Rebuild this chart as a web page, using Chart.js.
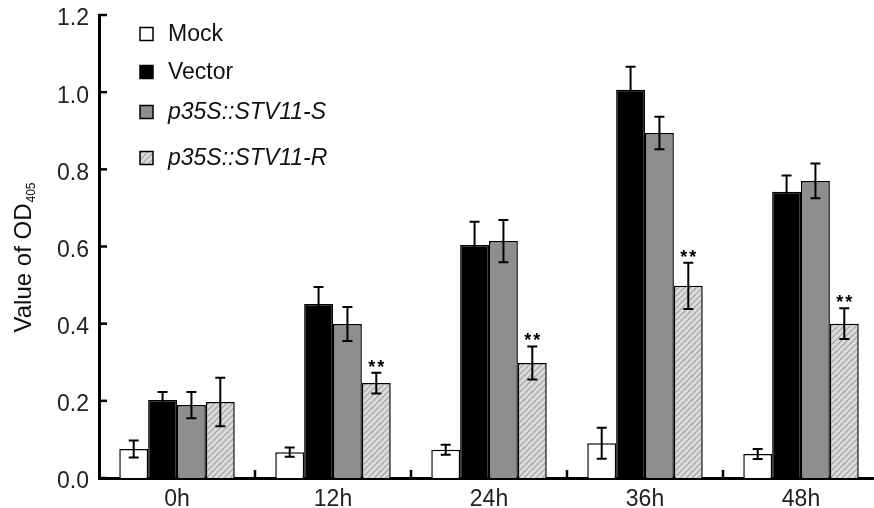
<!DOCTYPE html>
<html>
<head>
<meta charset="utf-8">
<script src="https://cdn.jsdelivr.net/npm/chart.js@4/dist/chart.umd.min.js"></script>
<style>
  html, body { margin: 0; padding: 0; background: #fff; overflow: hidden; }
  #wrap { width: 880px; height: 508px; }
</style>
</head>
<body>
<div id="wrap"><canvas id="myChart" width="880" height="508"></canvas></div>
<script>
// values
const categories = ['0h', '12h', '24h', '36h', '48h'];
const seriesNames = ['Mock', 'Vector', 'p35S::STV11-S', 'p35S::STV11-R'];

const mockValues   = [0.075, 0.067, 0.073, 0.090, 0.062];
const mockErr      = [0.022, 0.012, 0.013, 0.040, 0.013];
const vectorValues = [0.202, 0.451, 0.604, 1.006, 0.742];
const vectorErr    = [0.021, 0.044, 0.060, 0.060, 0.042];
const sValues      = [0.189, 0.399, 0.614, 0.894, 0.770];
const sErr         = [0.034, 0.044, 0.055, 0.042, 0.045];
const rValues      = [0.197, 0.246, 0.298, 0.498, 0.400];
const rErr         = [0.063, 0.027, 0.043, 0.060, 0.040];
const rSignif      = ['', '**', '**', '**', '**'];

function hatchPattern() {
    const c = document.createElement('canvas');
    c.width = 6; c.height = 6;
    const g = c.getContext('2d');
    g.fillStyle = '#dcdcdc';
    g.fillRect(0, 0, 6, 6);
    g.strokeStyle = '#a9a9a9';
    g.lineWidth = 1.3;
    g.beginPath();
    g.moveTo(0, 6); g.lineTo(6, 0);
    g.moveTo(-1, 1); g.lineTo(1, -1);
    g.moveTo(5, 7); g.lineTo(7, 5);
    g.stroke();
    return g.createPattern(c, 'repeat');
}

const textFont = '"Liberation Sans", Arial, sans-serif';

// error bars + significance marks
const errorBars = {
    id: 'errorBars',
    afterDatasetsDraw(chart) {
        const ctx = chart.ctx;
        const y = chart.scales.y;
        ctx.save();
        ctx.strokeStyle = '#000';
        ctx.lineWidth = 2;
        chart.data.datasets.forEach((ds, i) => {
            chart.getDatasetMeta(i).data.forEach((bar, j) => {
                const v = ds.data[j], e = ds.errors[j];
                const yt = y.getPixelForValue(v + e);
                const yb = y.getPixelForValue(v - e);
                ctx.beginPath();
                ctx.moveTo(bar.x, yt); ctx.lineTo(bar.x, yb);
                ctx.moveTo(bar.x - 5, yt); ctx.lineTo(bar.x + 5, yt);
                ctx.moveTo(bar.x - 5, yb); ctx.lineTo(bar.x + 5, yb);
                ctx.stroke();
                if (ds.signif && ds.signif[j]) {
                    ctx.fillStyle = '#000';
                    ctx.font = 'bold 18px ' + textFont;
                    ctx.letterSpacing = '2px';
                    ctx.textAlign = 'center';
                    ctx.textBaseline = 'alphabetic';
                    ctx.fillText(ds.signif[j], bar.x + 1, yt);
                    ctx.letterSpacing = '0px';
                }
            });
        });
        ctx.restore();
    }
};

// inward tick marks, legend and y title
const decorations = {
    id: 'decorations',
    afterDraw(chart) {
        const ctx = chart.ctx;
        const area = chart.chartArea;
        const x = chart.scales.x, y = chart.scales.y;
        ctx.save();
        ctx.strokeStyle = '#000';
        ctx.lineWidth = 2.5;
        y.ticks.forEach((t, i) => {
            const py = y.getPixelForTick(i);
            ctx.beginPath();
            ctx.moveTo(area.left, py); ctx.lineTo(area.left + 8, py);
            ctx.stroke();
        });
        for (let i = 1; i < categories.length; i++) {
            const px = (x.getPixelForValue(i - 1) + x.getPixelForValue(i)) / 2;
            ctx.beginPath();
            ctx.moveTo(px, area.bottom); ctx.lineTo(px, area.bottom - 8);
            ctx.stroke();
        }

        // legend
        const rows = [34, 72, 112, 158];
        chart.data.datasets.forEach((ds, i) => {
            const cy = rows[i];
            ctx.fillStyle = ds.backgroundColor;
            ctx.fillRect(140, cy - 6.5, 13, 13);
            ctx.lineWidth = 1.5;
            ctx.strokeStyle = '#000';
            ctx.strokeRect(140, cy - 6.5, 13, 13);
            ctx.fillStyle = '#111';
            ctx.font = (ds.italic ? 'italic ' : '') + '23px ' + textFont;
            ctx.textAlign = 'left';
            ctx.textBaseline = 'middle';
            ctx.fillText(ds.label, 168, cy + 1);
        });

        // y axis title with subscript
        ctx.translate(31, 258);
        ctx.rotate(-Math.PI / 2);
        ctx.fillStyle = '#111';
        ctx.textBaseline = 'alphabetic';
        const main = 'Value of OD';
        ctx.font = '24px ' + textFont;
        const wMain = ctx.measureText(main).width;
        ctx.font = '12px ' + textFont;
        const wSub = ctx.measureText('405').width;
        const start = -(wMain + wSub) / 2;
        ctx.font = '24px ' + textFont;
        ctx.textAlign = 'left';
        ctx.fillText(main, start, 0);
        ctx.font = '12px ' + textFont;
        ctx.fillText('405', start + wMain + 1, 4);
        ctx.restore();
    }
};

const ctx = document.getElementById('myChart').getContext('2d');
const myChart = new Chart(ctx, {
    type: 'bar',
    data: {
        labels: categories,
        datasets: [
            { label: seriesNames[0], data: mockValues, errors: mockErr,
              backgroundColor: '#ffffff', borderColor: '#000', borderWidth: 1.5 },
            { label: seriesNames[1], data: vectorValues, errors: vectorErr,
              backgroundColor: '#000000', borderColor: '#000', borderWidth: 1.5 },
            { label: seriesNames[2], data: sValues, errors: sErr, italic: true,
              backgroundColor: '#8e8e8e', borderColor: '#000', borderWidth: 1.5 },
            { label: seriesNames[3], data: rValues, errors: rErr, italic: true, signif: rSignif,
              backgroundColor: hatchPattern(), borderColor: '#000', borderWidth: 1.5 }
        ]
    },
    options: {
        responsive: false,
        animation: false,
        layout: { padding: { top: 15, right: 1, left: 0, bottom: 0 } },
        datasets: { bar: { categoryPercentage: 0.74, barPercentage: 1.0 } },
        plugins: { legend: { display: false }, tooltip: { enabled: false } },
        scales: {
            x: {
                grid: { display: false },
                border: { color: '#000', width: 3 },
                ticks: { color: '#222', padding: 0, font: { family: 'Liberation Sans', size: 23 } },
                afterFit(scale) { scale.height = 30; scale.paddingLeft = 0; scale.paddingRight = 0; }
            },
            y: {
                min: 0,
                max: 1.2,
                grid: { display: false, drawTicks: false },
                border: { color: '#000', width: 3 },
                ticks: {
                    stepSize: 0.2,
                    color: '#222',
                    padding: 10,
                    labelOffset: 4,
                    font: { family: 'Liberation Sans', size: 23 },
                    callback: v => v.toFixed(1)
                },
                afterFit(scale) {
                    scale.width = 99;
                    scale.paddingTop = 0;
                    scale.paddingBottom = 0;
                }
            }
        }
    },
    plugins: [errorBars, decorations]
});
</script>
</body>
</html>
